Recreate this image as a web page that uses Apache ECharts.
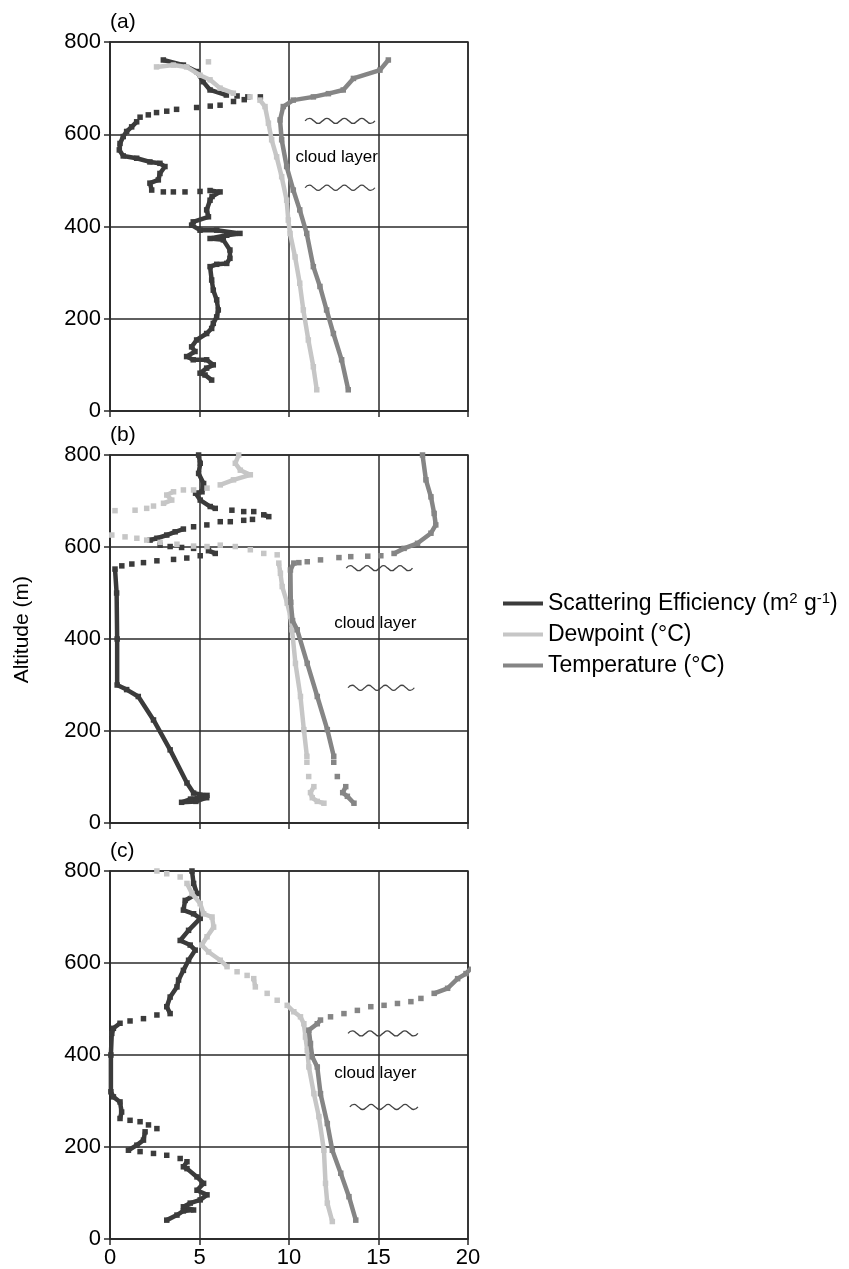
<!DOCTYPE html>
<html>
<head>
<meta charset="utf-8">
<script src="https://cdn.jsdelivr.net/npm/echarts@6/dist/echarts.min.js"></script>
<style>
html,body{margin:0;padding:0;background:#fff;}
#chart{width:849px;height:1269px;}
</style>
</head>
<body>
<div id="chart"></div>
<script>
// ---- data (x = value, y = altitude in m); null = gap between isolated points ----
const SERIES_NAMES = ['Scattering Efficiency', 'Dewpoint', 'Temperature'];
const PANEL_LABELS = ['(a)', '(b)', '(c)'];
const X_TICKS = [0, 5, 10, 15, 20];
const Y_TICKS = [0, 200, 400, 600, 800];

const A_SCAT = [[2.98,761],[4.1,750],[4.84,736],[5.2,714],[5.59,696],[6.5,685],null,[7.1,683],null,[7.7,681],null,[8.4,681],null,[7.5,675],null,[6.9,671],null,[6.15,663],null,[5.6,661],null,[4.84,658],null,[3.72,654],null,[3.17,650],null,[2.6,647],null,[2.14,642],null,[1.68,637],null,[1.49,627],[1.21,616],[0.93,606],[0.74,595],[0.56,580],[0.52,566],[0.74,553],[1.49,548],[2.23,540],[2.79,537],[3.07,530],[2.79,515],[2.7,501],[2.23,494],[2.33,479],null,[2.98,475],null,[3.54,475],null,[4.19,475],null,[5.03,476],null,[5.59,478],[6.15,475],[5.7,465],[5.59,457],[5.4,436],[5.5,421],[4.65,410],[4.56,403],[5.03,392],[5.96,392],[7.26,385],[6.52,381],[5.59,374],[6.33,371],[6.7,349],[6.7,331],[6.52,320],[5.96,318],[5.59,313],[5.68,284],[5.77,262],[5.96,241],[6.05,219],[5.96,204],[5.77,190],[5.68,179],[5.4,168],[4.84,154],[4.56,139],[4.75,129],[4.28,118],[4.65,111],[5.4,111],[5.77,100],[5.4,93],[5.03,82],[5.31,78],[5.68,67]];
const A_DEW = [[5.5,757],null,[2.6,746],[3.54,750],[4.28,746],[5.03,728],[5.59,718],[6.15,700],[6.89,689],null,[7.82,681],null,[8.38,674],[8.66,660],[8.85,624],[9.03,588],[9.31,551],[9.59,508],[9.87,457],[9.96,414],[10.06,385],[10.34,334],[10.6,277],[10.8,219],[11.08,154],[11.36,96],[11.55,46]];
const A_TEMP = [[15.55,761],[15.08,739],[13.6,721],[13.03,696],[12.2,688],[11.36,681],[10.24,674],[9.68,660],[9.5,631],[9.59,588],[9.87,530],[10.24,479],[10.6,436],[10.99,385],[11.36,313],[11.73,270],[12.1,219],[12.48,168],[12.94,111],[13.31,46]];

const B_SCAT = [[4.95,800],[5.04,782],[4.95,760],[5.23,738],[5.14,720],[4.78,717],[5.04,702],[5.6,688],[5.88,684],null,[6.81,680],null,[7.47,677],null,[8.03,677],null,[8.59,670],[8.87,666],null,[7.96,660],null,[7.47,658],null,[6.72,655],null,[6.16,655],null,[5.41,648],null,[4.67,644],null,[4.1,639],[3.64,633],[3.17,626],[2.62,619],[2.24,615],null,[2.8,604],null,[3.36,601],null,[4.0,599],null,[4.67,597],null,[5.5,592],[5.88,586],null,[5.04,581],null,[4.29,576],null,[3.55,573],null,[2.62,570],null,[1.87,566],null,[1.22,563],null,[0.66,559],null,[0.28,552],[0.37,500],[0.4,400],[0.4,300],[0.93,290],[1.58,275],[2.43,224],[3.36,159],[4.3,87],[4.67,65],[5.42,60],[5.2,56],[4.5,52],[4.0,45],[4.8,47],[5.4,55]];
const B_DEW = [[7.19,800],[7.0,782],[7.28,767],[7.84,757],[6.9,746],[6.16,735],null,[5.42,728],null,[4.67,724],null,[4.1,724],null,[3.55,720],[3.17,713],[3.45,702],[2.99,695],null,[2.43,689],null,[2.05,684],null,[1.4,680],null,[0.28,679],null,[0.1,626],null,[0.84,622],null,[1.5,619],null,[2.05,615],null,[2.8,610],null,[3.74,606],null,[4.67,602],null,[5.42,601],null,[6.16,604],null,[7.0,601],null,[7.84,594],null,[8.59,586],null,[9.34,583],null,[9.43,565],[9.52,543],[9.62,514],[9.9,478],[10.08,449],[10.17,420],[10.36,347],[10.64,275],[10.83,203],[11.0,145],null,[11.0,132],null,[11.1,101],null,[11.39,79],[11.2,66],[11.3,55],[11.58,47],[11.95,43]];
const B_TEMP = [[17.46,800],[17.65,746],[17.93,709],[18.11,673],[18.2,648],[17.93,630],[17.18,608],[16.43,597],[15.87,586],null,[15.13,581],null,[14.4,580],null,[13.45,579],null,[12.79,577],null,[11.76,572],null,[11.02,568],null,[10.55,566],null,[10.27,565],[10.08,550],[10.1,480],[10.2,440],[10.46,420],[11.02,347],[11.58,275],[12.14,203],[12.5,145],null,[12.5,132],null,[12.7,101],null,[13.17,79],[13.0,66],[13.26,58],[13.63,43]];

const C_SCAT = [[4.58,800],[4.67,773],[4.86,751],[4.2,736],[4.1,715],[4.67,707],[5.04,697],[4.39,671],[3.92,649],[4.48,639],[4.76,628],[4.39,606],[4.1,584],[3.83,563],[3.74,548],[3.36,526],[3.17,505],[3.36,490],null,[2.62,487],null,[1.87,479],null,[1.12,474],null,[0.56,469],[0.19,458],[0.1,447],[0.05,400],[0.05,320],[0.19,309],[0.56,298],[0.65,276],[0.56,262],null,[1.12,258],null,[1.68,255],null,[2.15,248],null,[2.62,240],null,[1.96,233],[1.87,215],[1.5,204],[1.03,193],null,[1.68,190],null,[2.43,186],null,[3.17,182],null,[3.92,175],null,[4.3,168],[4.1,157],[4.3,153],[4.86,135],[5.23,121],[4.86,106],[5.42,96],[5.04,85],[4.48,78],[4.1,70],[4.67,63],[4.1,61],[3.74,52],[3.17,41]];
const C_DEW = [[2.62,800],null,[3.17,794],null,[3.92,787],null,[4.3,773],[4.58,751],[5.04,729],[5.23,707],[5.7,700],[5.79,678],[5.42,657],[5.13,639],[5.51,624],[6.16,606],[6.54,592],null,[7.1,581],null,[7.66,573],null,[8.03,566],[8.12,548],null,[8.78,534],null,[9.34,519],null,[9.9,508],[10.27,494],[10.64,483],[10.83,468],[10.92,439],[11.02,410],[11.11,374],[11.39,316],[11.67,266],[11.95,193],[12.04,121],[12.14,78],[12.42,38]];
const C_TEMP = [[20.2,590],[19.89,577],[19.42,566],[18.86,545],[18.11,534],null,[17.37,523],null,[16.81,516],null,[16.06,512],null,[15.31,508],null,[14.57,505],null,[13.82,497],null,[13.07,490],null,[12.32,483],null,[11.76,476],[11.58,468],[11.11,454],[11.2,425],[11.3,396],[11.58,374],[11.76,316],[12.14,251],[12.42,193],[12.89,143],[13.35,92],[13.73,41]];

// annotations (data coordinates)
const CLOUD_LABELS = [[10.34,551],[12.5,435],[12.5,361]];
const WAVES = [ // [xStart, xEnd, altitude] per panel
  [[10.9,14.8,629],[10.9,14.8,484]],
  [[13.2,16.9,554],[13.3,17.0,294]],
  [[13.3,17.2,447],[13.4,17.2,287]]
];
const WAVE_SHAPE = [0,1,0,-1,0,1,0,-1,0,1,0,-1,0,1,0,-1,0];
const WAVE_AMP = 5.5;

const PANELS = [[A_SCAT,A_DEW,A_TEMP],[B_SCAT,B_DEW,B_TEMP],[C_SCAT,C_DEW,C_TEMP]];

// ---- styles ----
const FONT = 'Liberation Sans';
const COLORS = ['#3b3b3b', '#c6c6c6', '#858585'];
const GRID_TOPS = [42, 455, 871];
const GRID_HEIGHTS = [369, 368, 368];
const AX = '#2a2a2a';
const TXT = '#000000';

function toData(arr){ return arr.map(p => p === null ? ['-','-'] : p); }

const grids = [], xAxes = [], yAxes = [], series = [];
for (let i = 0; i < 3; i++) {
  grids.push({left:110, width:358, top:GRID_TOPS[i], height:GRID_HEIGHTS[i], show:true, borderColor:AX, borderWidth:1.5, backgroundColor:'transparent'});
  xAxes.push({type:'value', gridIndex:i, min:X_TICKS[0], max:X_TICKS[X_TICKS.length-1], interval:X_TICKS[1]-X_TICKS[0],
    axisLine:{show:true, onZero:false, lineStyle:{color:AX, width:1.5}},
    axisTick:{show:true, length:6, lineStyle:{color:AX, width:1.5}},
    splitLine:{show:true, lineStyle:{color:AX, width:1.5}},
    axisLabel:{show:i===2, fontFamily:FONT, fontSize:22, color:TXT, margin:8}});
  yAxes.push({type:'value', gridIndex:i, min:Y_TICKS[0], max:Y_TICKS[Y_TICKS.length-1], interval:Y_TICKS[1]-Y_TICKS[0],
    axisLine:{show:true, onZero:false, lineStyle:{color:AX, width:1.5}},
    axisTick:{show:true, length:6, lineStyle:{color:AX, width:1.5}},
    splitLine:{show:true, lineStyle:{color:AX, width:1.5}},
    axisLabel:{fontFamily:FONT, fontSize:22, color:TXT, margin:9}});
  PANELS[i].forEach((arr, k) => {
    series.push({type:'line', name:SERIES_NAMES[k], xAxisIndex:i, yAxisIndex:i, data:toData(arr),
      symbol:'rect', symbolSize:5.5, showSymbol:true, connectNulls:false, clip:true,
      lineStyle:{color:COLORS[k], width:4.5}, itemStyle:{color:COLORS[k]},
      emphasis:{disabled:true}, silent:true, z:2+k});
  });
  WAVES[i].forEach(w => {
    const pts = WAVE_SHAPE.map((s, j) => [w[0] + (w[1]-w[0]) * j/(WAVE_SHAPE.length-1), w[2] + s*WAVE_AMP]);
    series.push({type:'line', xAxisIndex:i, yAxisIndex:i, data:pts, smooth:0.6, symbol:'none',
      lineStyle:{color:'#444', width:1.3}, silent:true, z:6});
  });
  series.push({type:'scatter', xAxisIndex:i, yAxisIndex:i, data:[CLOUD_LABELS[i]], symbolSize:1,
    itemStyle:{color:'rgba(0,0,0,0)'}, silent:true, z:7,
    label:{show:true, position:'right', distance:0, formatter:'cloud layer', fontFamily:FONT, fontSize:17, color:TXT, opacity:1}});
}

const chart = echarts.init(document.getElementById('chart'), null, {renderer:'canvas'});
chart.setOption({
  animation:false,
  backgroundColor:'#fff',
  grid:grids, xAxis:xAxes, yAxis:yAxes, series:series,
  title: PANEL_LABELS.map((t, i) => ({text:t, left:110, top:GRID_TOPS[i]-30, padding:0, textStyle:{fontFamily:FONT, fontSize:21, fontWeight:'normal', color:TXT}})),
  legend:{data:SERIES_NAMES, orient:'vertical', left:503, top:591, padding:0, itemGap:8, itemWidth:40, itemHeight:4, icon:'rect',
    selectedMode:false,
    formatter: n => n === 'Scattering Efficiency' ? '{n|Scattering Efficiency (m}{s|2}{n| g}{s|-1}{n|)}' : '{n|' + n + ' (°C)}',
    textStyle:{fontFamily:FONT, fontSize:23, color:TXT,
      rich:{n:{fontFamily:FONT, fontSize:23, lineHeight:25, color:TXT}, s:{fontFamily:FONT, fontSize:15, lineHeight:15, verticalAlign:'top', color:TXT}}}},
  graphic:[{type:'text', left:12, top:576, rotation:Math.PI/2, style:{text:'Altitude (m)', font:'21px "Liberation Sans"', fill:TXT}}]
});
</script>
</body>
</html>
